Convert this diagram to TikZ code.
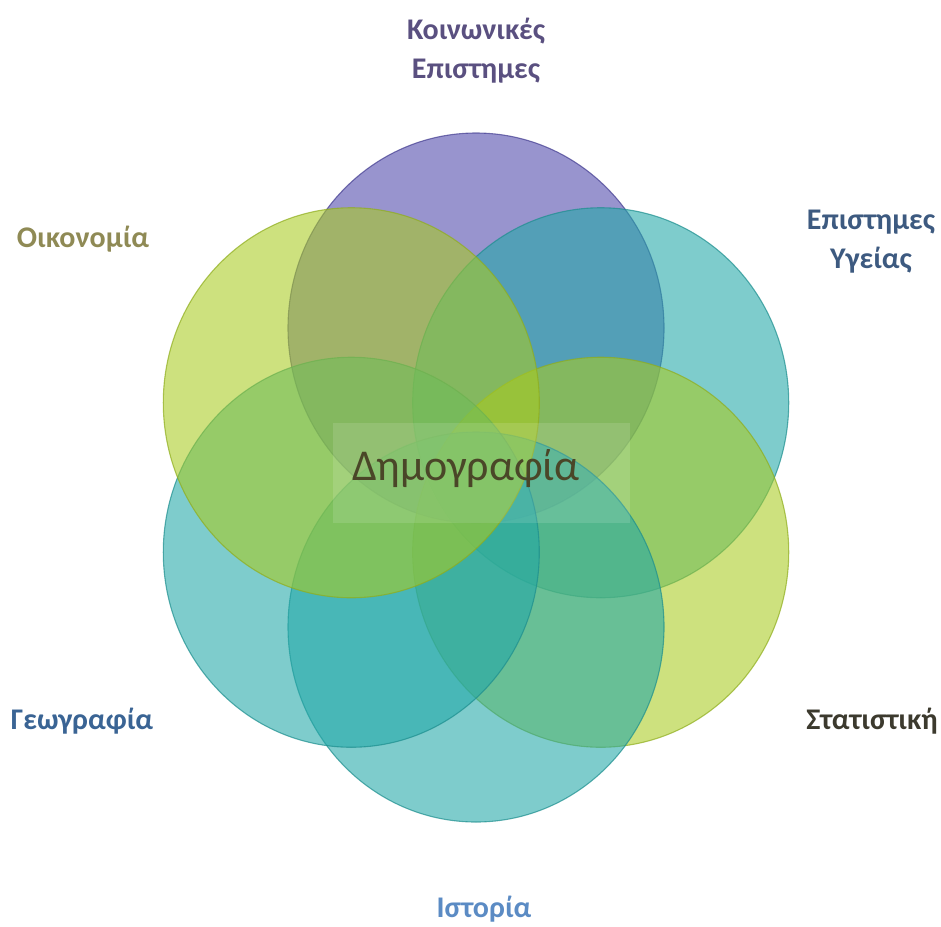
\documentclass[tikz,border=0pt]{standalone}
\usepackage{fontspec}
\setmainfont{Carlito}
\usetikzlibrary{calc}
\definecolor{cpurp}{HTML}{4E46AA}
\definecolor{cteal}{HTML}{21A7A7}
\definecolor{clime}{HTML}{A8CB21}
\definecolor{tsoc}{HTML}{5A5080}
\definecolor{thea}{HTML}{3D5A80}
\definecolor{teco}{HTML}{8F8A55}
\definecolor{tgeo}{HTML}{3A6494}
\definecolor{tsta}{HTML}{3C3A2E}
\definecolor{this}{HTML}{5B8BC4}
\definecolor{tdem}{HTML}{4A4628}
\tikzset{lbl/.style={font=\bfseries\fontsize{30}{39}\selectfont,align=center,anchor=base}}
\begin{document}
\begin{tikzpicture}[x=1pt,y=-1pt,line width=1.1pt]
\useasboundingbox (0,0) rectangle (941,926);
\coordinate (O) at (476,477.5);
\foreach \a/\col in {-90/cpurp,-30/cteal,30/clime,90/cteal,150/cteal,210/clime}
  \draw[draw=\col!85!black,draw opacity=.7,fill=\col,fill opacity=.58] ($(O)+(\a:144 and 149.5)$) ellipse (188pt and 195pt);
\fill[white,fill opacity=.12] (333,423) rectangle (630,523);
\node[font=\fontsize{44}{50}\selectfont,text=tdem,anchor=base] (dem) at (466,480) {Δημογραφία};
% disciplines around
\node[lbl,text=tsoc] (soc) at (476,78) {Κοινωνικές\\Επιστημες};
\node[lbl,text=thea] (hea) at (871,268) {Επιστημες\\Υγείας};
\node[lbl,text=teco] (eco) at (83,247) {Οικονομία};
\node[lbl,text=tgeo] (geo) at (82,729) {Γεωγραφία};
\node[lbl,text=tsta] (sta) at (872,729) {Στατιστική};
\node[lbl,text=this] (his) at (484,917) {Ιστορία};
\end{tikzpicture}
\end{document}
